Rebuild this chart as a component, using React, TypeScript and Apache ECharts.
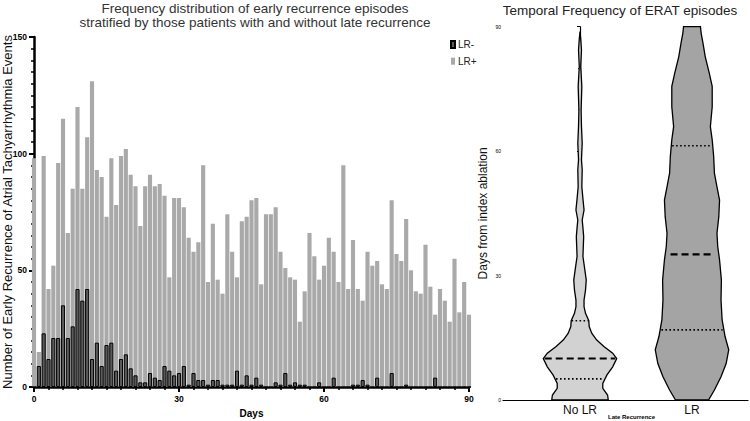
import React, { useEffect, useRef } from 'react';
import * as echarts from 'echarts';

// LR+ (late recurrence) early recurrence counts per day, days 0..90
const lrPlus = [
  98, 15, 99, 42, 52, 96, 115, 66, 85, 120,
  85, 107, 131, 93, 90, 73, 98, 78, 99, 102,
  91, 86, 69, 86, 91, 86, 87, 82, 47, 81,
  81, 77, 64, 58, 62, 95, 45, 70, 46, 40,
  74, 58, 47, 71, 73, 80, 81, 44, 74, 74,
  77, 58, 51, 47, 46, 28, 41, 66, 56, 46,
  52, 64, 58, 45, 95, 42, 63, 42, 37, 58,
  52, 54, 44, 42, 80, 57, 54, 72, 50, 41,
  40, 61, 43, 31, 42, 37, 28, 55, 32, 45,
  31,
];
// LR- (no late recurrence) counts per day, days 0..90
const lrMinus = [
  0, 9, 23, 12, 21, 21, 35, 21, 26, 42,
  37, 42, 12, 19, 9, 18, 19, 7, 12, 14,
  8, 5, 2, 2, 6, 4, 3, 9, 7, 5,
  6, 9, 1, 6, 3, 3, 1, 3, 3, 1,
  1, 1, 7, 1, 5, 1, 4, 1, 0, 0,
  2, 1, 6, 1, 2, 1, 1, 0, 0, 2,
  0, 0, 4, 0, 0, 0, 1, 1, 3, 1,
  0, 4, 0, 0, 6, 0, 0, 1, 0, 0,
  0, 0, 0, 4, 0, 0, 0, 0, 0, 0,
  0,
];
const seriesNames = ['LR-', 'LR+'];

// Violin plot profiles (day -> relative density)
const groups = ['No LR', 'LR'];
const noLrDays = [0, 1.2, 2.8, 4, 6, 8, 10, 11.3, 12.9, 14.5, 16.1, 17.7, 19.1, 20.9, 22.5, 24.1, 26.5, 28.9, 31.5, 34.6, 37, 39.4, 41.5, 43.4, 45.8, 48.5, 51.4, 55.5, 57.9, 61.9, 66, 69.9, 75.6, 80.4, 84.4, 87, 88.8];
const noLrDensity = [0.77, 0.75, 0.62, 0.62, 0.73, 0.89, 1.0, 0.89, 0.65, 0.45, 0.32, 0.25, 0.24, 0.15, 0.11, 0.11, 0.15, 0.17, 0.13, 0.08, 0.09, 0.1, 0.08, 0.06, 0.11, 0.08, 0.05, 0.06, 0.04, 0.06, 0.04, 0.03, 0.05, 0.02, 0.04, 0.02, 0];
const lrDays = [0, 2.4, 5.6, 8.8, 12.1, 15.3, 19.3, 24.1, 28.9, 33.8, 37, 40.2, 44.2, 48.2, 51.4, 54.7, 58.7, 62.7, 65.9, 70.7, 75.6, 78.8, 82.8, 86, 88.4, 90];
const lrDensity = [0.45, 0.61, 0.79, 0.93, 1.0, 0.9, 0.82, 0.79, 0.8, 0.75, 0.7, 0.68, 0.73, 0.75, 0.68, 0.61, 0.59, 0.55, 0.5, 0.55, 0.55, 0.47, 0.36, 0.3, 0.25, 0.23];
// [lower quartile, median, upper quartile]
const noLrQuartiles = [5.1, 10, 19.1];
const lrQuartiles = [16.9, 35.1, 61.3];

const FONT = '"Liberation Sans", Arial, Helvetica, sans-serif';

function interp(xs: number[], ys: number[], x: number): number {
  if (x <= xs[0]) return ys[0];
  for (let i = 1; i < xs.length; i++) {
    if (x <= xs[i]) {
      const t = (x - xs[i - 1]) / (xs[i] - xs[i - 1]);
      return ys[i - 1] + t * (ys[i] - ys[i - 1]);
    }
  }
  return ys[ys.length - 1];
}

function violin(g: number, days: number[], dens: number[], quart: number[], fill: string) {
  return {
    type: 'custom',
    name: groups[g],
    coordinateSystem: 'cartesian2d',
    xAxisIndex: 1,
    yAxisIndex: 1,
    data: [[g, 0]],
    renderItem: (params: any, api: any) => {
      const W = 0.328;
      const left = days.map((d, i) => api.coord([g - dens[i] * W, d]));
      const right = days.map((d, i) => api.coord([g + dens[i] * W, d])).reverse();
      const children: any[] = [
        {
          type: 'polygon',
          shape: { points: left.concat(right) },
          style: { fill, stroke: '#000', lineWidth: 1.3 },
        },
      ];
      quart.forEach((q, k) => {
        const inset = k === 1 && g === 1 ? 0.8 : 0.96;
        const hw = interp(days, dens, q) * W * inset;
        const p1 = api.coord([g - hw, q]);
        const p2 = api.coord([g + hw, q]);
        children.push({
          type: 'line',
          shape: { x1: p1[0], y1: p1[1], x2: p2[0], y2: p2[1] },
          style: {
            stroke: '#000',
            lineWidth: k === 1 ? 2.2 : 1.6,
            lineDash: k === 1 ? [7, 4] : [1.6, 2.4],
          },
        });
      });
      return { type: 'group', children };
    },
  };
}

export default function App() {
  const ref = useRef<HTMLDivElement>(null);
  useEffect(() => {
    if (!ref.current) return;
    const chart = echarts.init(ref.current, undefined, { renderer: 'svg' });
    const gridW = 435;
    const binPx = gridW / 90;
    const option: any = {
      animation: false,
      textStyle: { fontFamily: FONT },
      title: [
        {
          text: 'Frequency distribution of early recurrence episodes\nstratified by those patients with and without late recurrence',
          left: 255,
          top: 1,
          padding: 0,
          textAlign: 'center',
          textStyle: { fontSize: 13.5, fontWeight: 'normal', color: '#333', lineHeight: 14, fontFamily: FONT },
        },
        {
          text: 'Temporal Frequency of ERAT episodes',
          left: 620,
          top: 3,
          padding: 0,
          textAlign: 'center',
          textStyle: { fontSize: 13.5, fontWeight: 'normal', color: '#222', fontFamily: FONT },
        },
      ],
      legend: {
        data: seriesNames,
        orient: 'vertical',
        left: 450,
        top: 39.5,
        padding: 0,
        itemWidth: 4,
        itemHeight: 7,
        itemGap: 6.7,
        icon: 'rect',
        textStyle: { fontSize: 10, color: '#222', lineHeight: 10, padding: [0, 0, 0, -2], fontFamily: FONT },
      },
      grid: [
        { left: 34, top: 37, width: gridW, height: 350, containLabel: false, outerBoundsMode: 'none' },
        { left: 503, top: 26.7, width: 245, height: 373.3, containLabel: false, outerBoundsMode: 'none' },
      ],
      xAxis: [
        {
          type: 'value',
          gridIndex: 0,
          min: 0,
          max: 90,
          interval: 30,
          name: 'Days',
          nameLocation: 'middle',
          nameGap: 21,
          nameMoveOverlap: false,
          nameTextStyle: { fontSize: 10, fontWeight: 'bold', color: '#000', fontFamily: FONT },
          axisLine: { lineStyle: { color: '#000', width: 2.5 } },
          axisTick: { length: 5, lineStyle: { color: '#000', width: 2 } },
          minorTick: { show: true, splitNumber: 10, length: 3, lineStyle: { color: '#000', width: 1.5 } },
          axisLabel: { fontSize: 8.5, fontWeight: 'bold', color: '#000', margin: 7, fontFamily: FONT },
          splitLine: { show: false },
          minorSplitLine: { show: false },
        },
        {
          type: 'value',
          gridIndex: 1,
          min: -0.6875,
          max: 1.5,
          interval: 0.0625,
          name: 'Late Recurrence',
          nameLocation: 'middle',
          nameGap: 14,
          nameMoveOverlap: false,
          nameTextStyle: { fontSize: 6, fontWeight: 'bold', color: '#000', padding: [0, 0, 0, 12], fontFamily: FONT },
          axisLine: { lineStyle: { color: '#000', width: 1.2 } },
          axisTick: { show: false },
          axisLabel: {
            fontSize: 12,
            color: '#111',
            margin: 4,
            fontFamily: FONT,
            formatter: (v: number) => (Math.abs(v) < 1e-6 ? groups[0] : Math.abs(v - 1) < 1e-6 ? groups[1] : ''),
          },
          splitLine: { show: false },
        },
      ],
      yAxis: [
        {
          type: 'value',
          gridIndex: 0,
          min: 0,
          max: 150,
          interval: 50,
          name: 'Number of Early Recurrence of Atrial Tachyarrhythmia Events',
          nameLocation: 'middle',
          nameGap: 20,
          nameMoveOverlap: false,
          nameTextStyle: { fontSize: 13, color: '#111', fontFamily: FONT },
          axisLine: { show: true, lineStyle: { color: '#000', width: 2.5 } },
          axisTick: { show: true, length: 5, lineStyle: { color: '#000', width: 2 } },
          minorTick: { show: true, splitNumber: 10, length: 3, lineStyle: { color: '#000', width: 1.5 } },
          axisLabel: { fontSize: 8.5, fontWeight: 'bold', color: '#000', margin: 7, fontFamily: FONT },
          splitLine: { show: false },
          minorSplitLine: { show: false },
        },
        {
          type: 'value',
          gridIndex: 1,
          min: 0,
          max: 90,
          interval: 30,
          name: 'Days from index ablation',
          nameLocation: 'middle',
          nameGap: 14,
          nameMoveOverlap: false,
          nameTextStyle: { fontSize: 12, color: '#111', fontFamily: FONT },
          axisLine: { show: true, lineStyle: { color: '#000', width: 1.2 } },
          axisTick: { show: true, length: 3, lineStyle: { color: '#000', width: 1 } },
          minorTick: { show: true, splitNumber: 6, length: 2, lineStyle: { color: '#000', width: 0.8 } },
          axisLabel: { fontSize: 5, color: '#000', margin: 2, fontFamily: FONT },
          splitLine: { show: false },
          minorSplitLine: { show: false },
        },
      ],
      series: [
        {
          type: 'bar',
          name: 'LR+',
          xAxisIndex: 0,
          yAxisIndex: 0,
          data: lrPlus.map((v, i) => [i, v]),
          barWidth: binPx - 0.7,
          barGap: '-100%',
          clip: false,
          itemStyle: { color: '#a9a9a9' },
          z: 2,
        },
        {
          type: 'bar',
          name: 'LR-',
          xAxisIndex: 0,
          yAxisIndex: 0,
          data: lrMinus.map((v, i) => [i, v]),
          barWidth: binPx - 0.7,
          barGap: '-100%',
          clip: false,
          itemStyle: { color: '#5a5a5a', borderColor: '#000', borderWidth: 1 },
          z: 3,
        },
        violin(0, noLrDays, noLrDensity, noLrQuartiles, '#d2d2d2'),
        violin(1, lrDays, lrDensity, lrQuartiles, '#a4a4a4'),
      ],
    };
    chart.setOption(option);
    return () => chart.dispose();
  }, []);
  return <div ref={ref} style={{ position: 'absolute', left: 0, top: 0, width: 750, height: 421 }} />;
}
